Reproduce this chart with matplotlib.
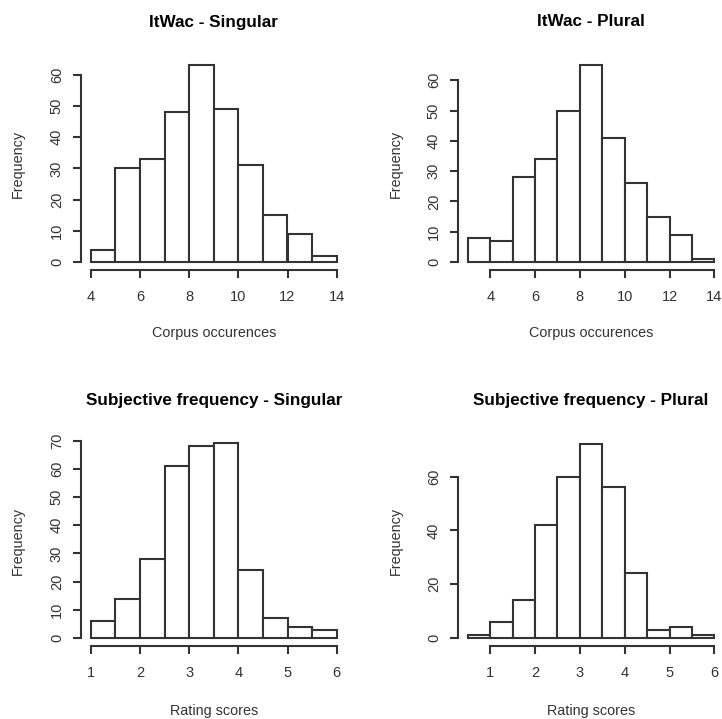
import numpy as np
import matplotlib
matplotlib.use("Agg")
import matplotlib.pyplot as plt

plt.rcParams['font.family'] = ['Liberation Sans', 'DejaVu Sans']

W, H = 722, 719
DPI = 100

# histogram data (bin edges + counts)
itwac_sg_edges = np.arange(4, 15, 1)
itwac_sg_counts = [4, 30, 33, 48, 63, 49, 31, 15, 9, 2]
itwac_pl_edges = np.arange(3, 15, 1)
itwac_pl_counts = [8, 7, 28, 34, 50, 65, 41, 26, 15, 9, 1]
subj_sg_edges = np.arange(1, 6.01, 0.5)
subj_sg_counts = [6, 14, 28, 61, 68, 69, 24, 7, 4, 3]
subj_pl_edges = np.arange(0.5, 6.01, 0.5)
subj_pl_counts = [1, 6, 14, 42, 60, 72, 56, 24, 3, 4, 1]

titles = ["ItWac - Singular", "ItWac - Plural",
          "Subjective frequency - Singular", "Subjective frequency - Plural"]
xlabels = ["Corpus occurences", "Corpus occurences", "Rating scores", "Rating scores"]
xticks_list = [[4, 6, 8, 10, 12, 14], [4, 6, 8, 10, 12, 14],
               [1, 2, 3, 4, 5, 6], [1, 2, 3, 4, 5, 6]]
yticks_list = [[0, 10, 20, 30, 40, 50, 60], [0, 10, 20, 30, 40, 50, 60],
               [0, 10, 20, 30, 40, 50, 60, 70], [0, 20, 40, 60]]

panels = [
    (itwac_sg_edges, itwac_sg_counts),
    (itwac_pl_edges, itwac_pl_counts),
    (subj_sg_edges, subj_sg_counts),
    (subj_pl_edges, subj_pl_counts),
]

# plot regions in pixels: left, top, right, bottom
regions = [
    (81, 57.6, 346.5, 270.2),
    (458, 57.2, 724.2, 270.2),
    (81, 435.7, 346.5, 646.1),
    (458, 436.6, 724.2, 646.0),
]
title_y = [22, 22, 400, 400]
xlab_y = [333, 333, 711, 711]
ylab_x = [18, 396, 18, 396]

line_col = '#333333'
text_col = '#333333'

fig = plt.figure(figsize=(W / DPI, H / DPI), dpi=DPI)

for i, ((edges, counts), (l, t, r, b)) in enumerate(zip(panels, regions)):
    ax = fig.add_axes([l / W, 1 - b / H, (r - l) / W, (b - t) / H])
    widths = np.diff(edges)
    ax.bar(edges[:-1], counts, width=widths, align='edge', color='white',
           edgecolor=line_col, linewidth=1.5)
    # R-style 4% padding
    x0, x1 = edges[0], edges[-1]
    pad = 0.04 * (x1 - x0)
    ymax = max(counts) * 1.04
    ax.set_xlim(x0 - pad, x1 + pad)
    ax.set_ylim(-0.04 * ymax, ymax)

    xt = xticks_list[i]
    yt = yticks_list[i]
    ax.set_xticks(xt)
    ax.set_yticks(yt)
    ax.set_yticklabels([str(v) for v in yt], rotation=90, va='center')
    for s in ['top', 'right']:
        ax.spines[s].set_visible(False)
    ax.spines['left'].set_bounds(yt[0], yt[-1])
    ax.spines['bottom'].set_bounds(xt[0], xt[-1])
    for s in ['left', 'bottom']:
        ax.spines[s].set_color(line_col)
        ax.spines[s].set_linewidth(1.5)
    ax.tick_params(direction='out', length=5.8, width=1.5, color=line_col,
                   labelcolor=text_col, labelsize=10.5)
    ax.tick_params(axis='x', pad=8.5)
    ax.tick_params(axis='y', pad=6.5)
    ax.patch.set_alpha(0)

    cx = (l + r) / 2
    cy = (t + b) / 2
    fig.text(cx / W, 1 - title_y[i] / H, titles[i], ha='center', va='center',
             fontsize=12.3, fontweight='bold', color='black')
    fig.text(cx / W, 1 - xlab_y[i] / H, xlabels[i], ha='center', va='center',
             fontsize=10.4, color=text_col)
    fig.text(ylab_x[i] / W, 1 - cy / H, "Frequency", ha='center', va='center',
             rotation=90, fontsize=10.4, color=text_col)

fig.savefig("out.png", dpi=DPI)
